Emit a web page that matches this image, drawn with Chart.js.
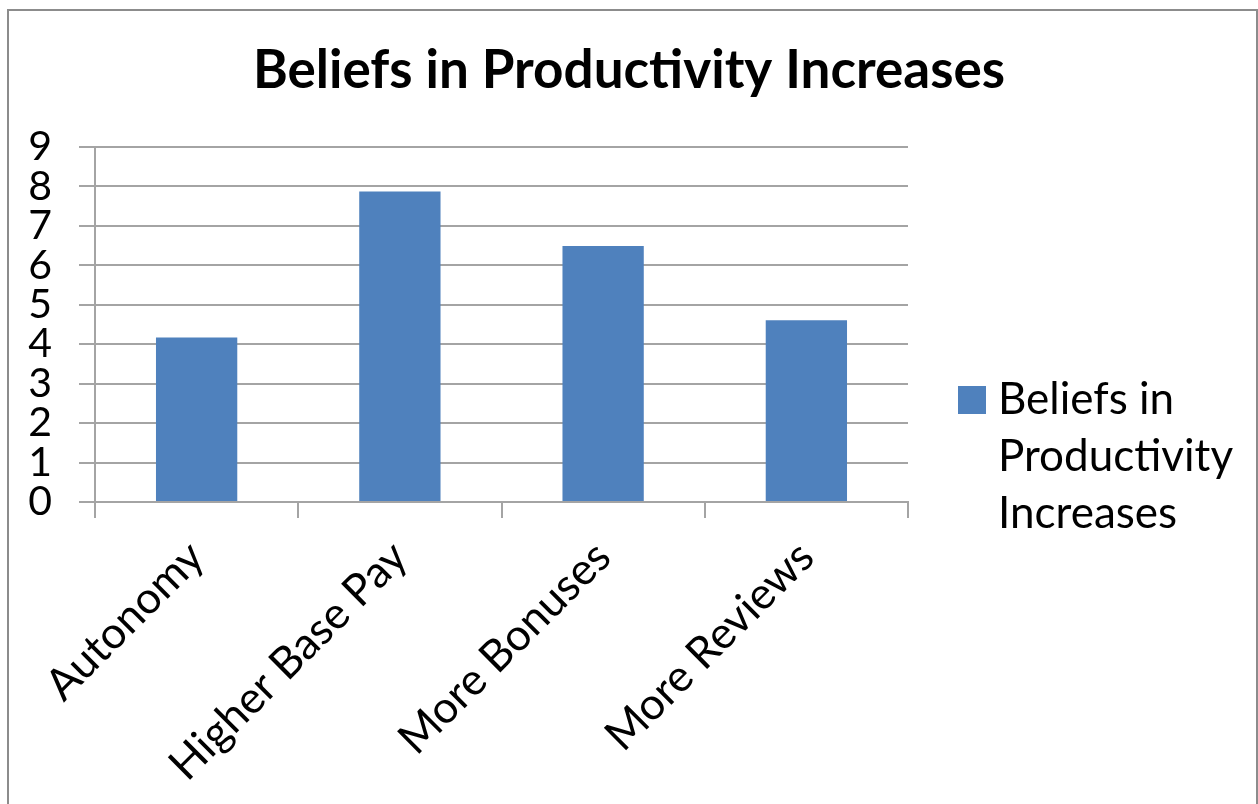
<!DOCTYPE html>
<html>
<head>
<meta charset="utf-8">
<title>Beliefs in Productivity Increases</title>
<script src="https://cdn.jsdelivr.net/npm/chart.js@4.4.1/dist/chart.umd.min.js"></script>
<style>
  html, body { margin: 0; padding: 0; background: #ffffff; overflow: hidden; }
  #wrap { position: relative; width: 1258px; height: 804px; }
  #wrap canvas { position: absolute; left: 0; top: 0; }
  #frame {
    position: absolute; left: 7px; top: 9px; width: 1247px; height: 900px;
    border: 2px solid #8c8c8c; pointer-events: none;
  }
</style>
</head>
<body>
<div id="wrap">
  <canvas id="chart" width="1258" height="804"></canvas>
  <div id="frame"></div>
</div>
<script>
// Survey categories and the average belief score for each
const categories = ['Autonomy', 'Higher Base Pay', 'More Bonuses', 'More Reviews'];
const seriesName = 'Beliefs in Productivity Increases';
const seriesValues = [4.17, 7.87, 6.49, 4.61];
const yTickValues = [0, 1, 2, 3, 4, 5, 6, 7, 8, 9];

const FONT = 'Lato, "Open Sans", sans-serif';
const GRID = '#a4a4a4';
const BAR = '#4f81bd';

// Title centred across the whole canvas (not just the plot area)
const centredTitle = {
  id: 'centredTitle',
  afterDraw(chart, args, opts) {
    const ctx = chart.ctx;
    ctx.save();
    ctx.font = 'bold ' + opts.size + 'px ' + opts.family;
    ctx.fillStyle = '#000000';
    ctx.textAlign = 'center';
    ctx.textBaseline = 'alphabetic';
    ctx.fillText(opts.text, chart.width / 2, opts.baseline);
    ctx.restore();
  }
};

// Legend on the right whose label wraps over several lines
const wrappedLegend = {
  id: 'wrappedLegend',
  afterDraw(chart, args, opts) {
    const ctx = chart.ctx;
    const ds = chart.data.datasets[0];
    ctx.save();
    ctx.font = opts.size + 'px ' + opts.family;
    const words = ds.label.split(' ');
    const lines = [];
    let cur = '';
    for (const w of words) {
      const t = cur ? cur + ' ' + w : w;
      if (cur && ctx.measureText(t).width > opts.maxWidth) { lines.push(cur); cur = w; }
      else cur = t;
    }
    lines.push(cur);
    const boxX = chart.chartArea.right + opts.gap;
    const textX = boxX + opts.boxSize + opts.boxGap;
    const firstBase = opts.firstBaseline;
    ctx.fillStyle = ds.backgroundColor;
    ctx.fillRect(boxX, firstBase - opts.boxSize, opts.boxSize, opts.boxSize);
    ctx.fillStyle = '#000000';
    ctx.textBaseline = 'alphabetic';
    ctx.textAlign = 'left';
    lines.forEach((ln, i) => ctx.fillText(ln, textX, firstBase + i * opts.lineGap));
    ctx.restore();
  }
};

new Chart(document.getElementById('chart'), {
  type: 'bar',
  data: {
    labels: categories,
    datasets: [{
      label: seriesName,
      data: seriesValues,
      backgroundColor: BAR,
      borderWidth: 0,
      barPercentage: 0.4,
      categoryPercentage: 1.0
    }]
  },
  options: {
    responsive: false,
    animation: false,
    devicePixelRatio: 1,
    layout: { padding: { top: 147, left: 28, right: 350, bottom: 0 } },
    plugins: {
      legend: { display: false },
      tooltip: { enabled: false },
      title: { display: false },
      centredTitle: { text: seriesName, family: FONT, size: 53, baseline: 88 },
      wrappedLegend: {
        family: FONT, size: 44, maxWidth: 250,
        gap: 50, boxSize: 28, boxGap: 12,
        firstBaseline: 414, lineGap: 57
      }
    },
    scales: {
      x: {
        type: 'category',
        afterFit(scale) {
          scale.paddingLeft = 0;
          scale.paddingRight = 0;
          scale.height = 302;
        },
        grid: {
          offset: true, drawOnChartArea: false, drawTicks: true,
          tickLength: 16, color: GRID, lineWidth: 2
        },
        border: { display: true, color: GRID, width: 2 },
        ticks: {
          color: '#000000', font: { family: FONT, size: 44 },
          minRotation: 45, maxRotation: 45, autoSkip: false, padding: 13
        }
      },
      y: {
        min: 0, max: 9,
        afterBuildTicks(scale) { scale.ticks = yTickValues.map(v => ({ value: v })); },
        afterFit(scale) {
          scale.width = 67;
          scale.paddingTop = 0;
          scale.paddingBottom = 0;
        },
        grid: { color: GRID, lineWidth: 2, tickLength: 16, drawTicks: true },
        border: { display: true, color: GRID, width: 2 },
        ticks: {
          color: '#000000', font: { family: FONT, size: 41, lineHeight: 1 },
          autoSkip: false, padding: 27
        }
      }
    }
  },
  plugins: [centredTitle, wrappedLegend]
});
</script>
</body>
</html>
